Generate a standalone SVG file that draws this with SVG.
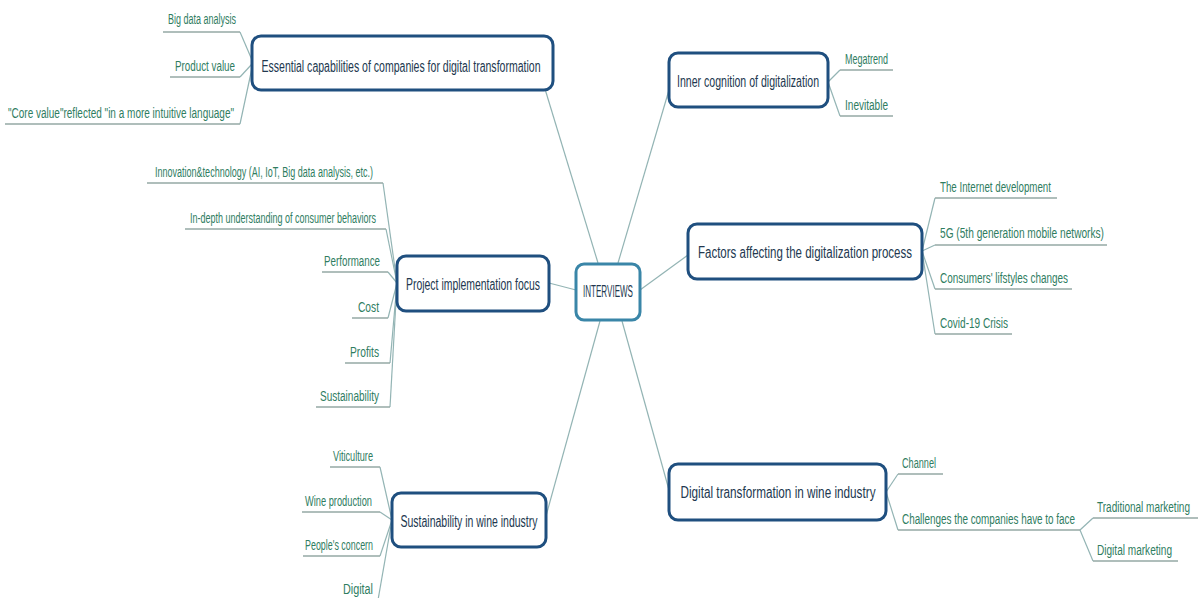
<svg xmlns="http://www.w3.org/2000/svg" width="1198" height="598" viewBox="0 0 1198 598">
<style>
.bg{fill:#ffffff}
.box{fill:#ffffff;stroke:#1f4f7f;stroke-width:3}
.center{fill:#ffffff;stroke:#3a86a8;stroke-width:3}
.mt{font-family:"Liberation Sans",Arial,sans-serif;font-size:16px;fill:#22384f}
.lt{font-family:"Liberation Sans",Arial,sans-serif;font-size:14px;fill:#2f7d5f}
.ul{stroke:#94a8a4;stroke-width:1.5;fill:none}
.cn{stroke:#93b4b4;stroke-width:1.2;fill:none}
</style>
<rect class="bg" x="0" y="0" width="1198" height="598"/>
<g id="connectors">
  <path class="cn" d="M598,263 L545,89"/>
  <path class="cn" d="M618,263 L669,90"/>
  <path class="cn" d="M576,290 L549,283"/>
  <path class="cn" d="M640,290 L688,255"/>
  <path class="cn" d="M600,321 L546,516"/>
  <path class="cn" d="M622,321 L669,490"/>
  <path class="cn" d="M240,32 L252,60"/>
  <path class="cn" d="M240,77 L252,64"/>
  <path class="cn" d="M240,124 L252,68"/>
  <path class="cn" d="M828,82 L840,70"/>
  <path class="cn" d="M828,82 L840,116"/>
  <path class="cn" d="M383,183 L397,283"/>
  <path class="cn" d="M386,229 L397,283"/>
  <path class="cn" d="M388,272 L397,283"/>
  <path class="cn" d="M388,318 L397,283"/>
  <path class="cn" d="M390,363 L397,283"/>
  <path class="cn" d="M390,407 L397,283"/>
  <path class="cn" d="M922,251 L935,198"/>
  <path class="cn" d="M922,251 L935,245"/>
  <path class="cn" d="M922,251 L935,289"/>
  <path class="cn" d="M922,251 L935,334"/>
  <path class="cn" d="M380,467 L392,520"/>
  <path class="cn" d="M380,512 L392,520"/>
  <path class="cn" d="M380,556 L392,520"/>
  <path class="cn" d="M378,600 L392,520"/>
  <path class="cn" d="M886,492 L898,474"/>
  <path class="cn" d="M886,492 L898,530"/>
  <path class="cn" d="M1080,530 L1093,518"/>
  <path class="cn" d="M1080,530 L1093,561"/>
</g>

<g id="n-center">
  <rect class="center" x="576" y="264" width="64" height="56" rx="8"/>
  <text class="mt" x="608" y="297" text-anchor="middle" font-size="13" textLength="50" lengthAdjust="spacingAndGlyphs">INTERVIEWS</text>
</g>

<g id="n-essential">
  <rect class="box" x="252" y="36" width="301" height="54" rx="9"/>
  <text class="mt" x="401" y="72" text-anchor="middle" textLength="279" lengthAdjust="spacingAndGlyphs">Essential capabilities of companies for digital transformation</text>
</g>
<g id="l-bigdata">
  <text class="lt" x="236" y="24" text-anchor="end" textLength="68" lengthAdjust="spacingAndGlyphs">Big data analysis</text>
  <path class="ul" d="M163,32 L240,32"/>
</g>
<g id="l-productvalue">
  <text class="lt" x="235" y="71" text-anchor="end" textLength="60" lengthAdjust="spacingAndGlyphs">Product value</text>
  <path class="ul" d="M170,77 L240,77"/>
</g>
<g id="l-corevalue">
  <text class="lt" x="234" y="118" text-anchor="end" textLength="226" lengthAdjust="spacingAndGlyphs">"Core value"reflected "in a more intuitive language"</text>
  <path class="ul" d="M5,124 L240,124"/>
</g>

<g id="n-inner">
  <rect class="box" x="669" y="53" width="159" height="54" rx="9"/>
  <text class="mt" x="748" y="87" text-anchor="middle" textLength="142" lengthAdjust="spacingAndGlyphs">Inner cognition of digitalization</text>
</g>
<g id="l-megatrend">
  <text class="lt" x="845" y="64" textLength="43" lengthAdjust="spacingAndGlyphs">Megatrend</text>
  <path class="ul" d="M840,70 L893,70"/>
</g>
<g id="l-inevitable">
  <text class="lt" x="845" y="110" textLength="43" lengthAdjust="spacingAndGlyphs">Inevitable</text>
  <path class="ul" d="M840,116 L893,116"/>
</g>

<g id="n-project">
  <rect class="box" x="397" y="256" width="152" height="55" rx="9"/>
  <text class="mt" x="473" y="290" text-anchor="middle" textLength="134" lengthAdjust="spacingAndGlyphs">Project implementation focus</text>
</g>
<g id="l-innovation">
  <text class="lt" x="373" y="177" text-anchor="end" textLength="218" lengthAdjust="spacingAndGlyphs">Innovation&amp;technology (AI, IoT, Big data analysis, etc.)</text>
  <path class="ul" d="M147,183 L383,183"/>
</g>
<g id="l-indepth">
  <text class="lt" x="376" y="223" text-anchor="end" textLength="186" lengthAdjust="spacingAndGlyphs">In-depth understanding of consumer behaviors</text>
  <path class="ul" d="M185,229 L386,229"/>
</g>
<g id="l-performance">
  <text class="lt" x="380" y="266" text-anchor="end" textLength="56" lengthAdjust="spacingAndGlyphs">Performance</text>
  <path class="ul" d="M322,272 L388,272"/>
</g>
<g id="l-cost">
  <text class="lt" x="379" y="312" text-anchor="end" textLength="21" lengthAdjust="spacingAndGlyphs">Cost</text>
  <path class="ul" d="M352,318 L388,318"/>
</g>
<g id="l-profits">
  <text class="lt" x="379" y="357" text-anchor="end" textLength="29" lengthAdjust="spacingAndGlyphs">Profits</text>
  <path class="ul" d="M345,363 L390,363"/>
</g>
<g id="l-sustainability">
  <text class="lt" x="379" y="401" text-anchor="end" textLength="59" lengthAdjust="spacingAndGlyphs">Sustainability</text>
  <path class="ul" d="M316,407 L390,407"/>
</g>

<g id="n-factors">
  <rect class="box" x="688" y="224" width="234" height="55" rx="9"/>
  <text class="mt" x="805" y="258" text-anchor="middle" textLength="214" lengthAdjust="spacingAndGlyphs">Factors affecting the digitalization process</text>
</g>
<g id="l-internet">
  <text class="lt" x="940" y="192" textLength="111" lengthAdjust="spacingAndGlyphs">The Internet development</text>
  <path class="ul" d="M935,198 L1057,198"/>
</g>
<g id="l-5g">
  <text class="lt" x="940" y="238" textLength="164" lengthAdjust="spacingAndGlyphs">5G (5th generation mobile networks)</text>
  <path class="ul" d="M935,245 L1107,245"/>
</g>
<g id="l-consumers">
  <text class="lt" x="940" y="283" textLength="128" lengthAdjust="spacingAndGlyphs">Consumers' lifstyles changes</text>
  <path class="ul" d="M935,289 L1072,289"/>
</g>
<g id="l-covid">
  <text class="lt" x="940" y="328" textLength="68" lengthAdjust="spacingAndGlyphs">Covid-19 Crisis</text>
  <path class="ul" d="M935,334 L1012,334"/>
</g>

<g id="n-sustain">
  <rect class="box" x="392" y="493" width="154" height="54" rx="9"/>
  <text class="mt" x="469" y="527" text-anchor="middle" textLength="137" lengthAdjust="spacingAndGlyphs">Sustainability in wine industry</text>
</g>
<g id="l-viticulture">
  <text class="lt" x="373" y="461" text-anchor="end" textLength="40" lengthAdjust="spacingAndGlyphs">Viticulture</text>
  <path class="ul" d="M330,467 L380,467"/>
</g>
<g id="l-wine">
  <text class="lt" x="372" y="506" text-anchor="end" textLength="67" lengthAdjust="spacingAndGlyphs">Wine production</text>
  <path class="ul" d="M302,512 L380,512"/>
</g>
<g id="l-people">
  <text class="lt" x="373" y="550" text-anchor="end" textLength="68" lengthAdjust="spacingAndGlyphs">People's concern</text>
  <path class="ul" d="M303,556 L380,556"/>
</g>
<g id="l-digital">
  <text class="lt" x="373" y="594" text-anchor="end" textLength="30" lengthAdjust="spacingAndGlyphs">Digital</text>
</g>

<g id="n-digitaltrans">
  <rect class="box" x="669" y="464" width="217" height="56" rx="9"/>
  <text class="mt" x="778" y="498" text-anchor="middle" textLength="195" lengthAdjust="spacingAndGlyphs">Digital transformation in wine industry</text>
</g>
<g id="l-channel">
  <text class="lt" x="902" y="468" textLength="34" lengthAdjust="spacingAndGlyphs">Channel</text>
  <path class="ul" d="M898,474 L943,474"/>
</g>
<g id="l-challenges">
  <text class="lt" x="902" y="524" textLength="173" lengthAdjust="spacingAndGlyphs">Challenges the companies have to face</text>
  <path class="ul" d="M898,530 L1080,530"/>
</g>
<g id="l-traditional">
  <text class="lt" x="1097" y="512" textLength="93" lengthAdjust="spacingAndGlyphs">Traditional marketing</text>
  <path class="ul" d="M1093,518 L1198,518"/>
</g>
<g id="l-digitalmkt">
  <text class="lt" x="1097" y="555" textLength="75" lengthAdjust="spacingAndGlyphs">Digital marketing</text>
  <path class="ul" d="M1093,561 L1178,561"/>
</g>
</svg>
